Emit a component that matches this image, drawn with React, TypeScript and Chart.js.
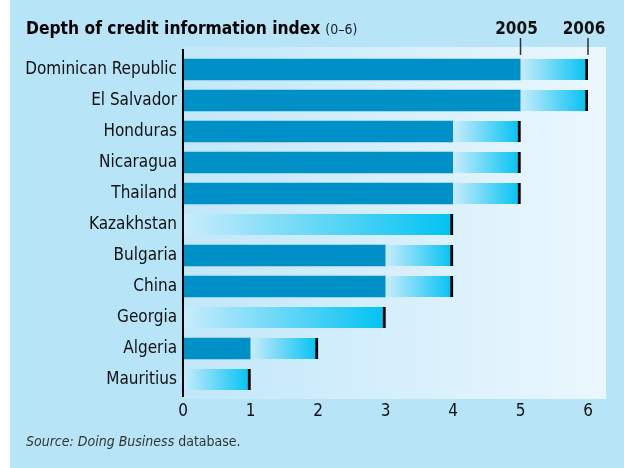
import React, { useEffect, useRef } from "react";
import { Chart, registerables } from "chart.js";

Chart.register(...registerables);

const countries = [
  "Dominican Republic",
  "El Salvador",
  "Honduras",
  "Nicaragua",
  "Thailand",
  "Kazakhstan",
  "Bulgaria",
  "China",
  "Georgia",
  "Algeria",
  "Mauritius",
];
const values2005 = [5, 5, 4, 4, 4, 0, 3, 3, 0, 1, 0];
const values2006 = [6, 6, 5, 5, 5, 4, 4, 4, 3, 2, 1];
const xTicks = [0, 1, 2, 3, 4, 5, 6];
const yearLabels = ["2005", "2006"];
const yearPositions = [5, 6];

const TITLE = "Depth of credit information index";
const TITLE_RANGE = "(0–6)";
const SOURCE_ITALIC = "Source: Doing Business";
const SOURCE_REST = " database.";

const FONT = '"Liberation Sans Narrow", "DejaVu Sans Condensed", "Open Sans", sans-serif';

const decorPlugin = {
  id: "decor",
  beforeDraw(chart: any) {
    const { ctx, chartArea } = chart;
    ctx.save();
    ctx.fillStyle = "#ffffff";
    ctx.fillRect(0, 0, chart.width, chart.height);
    ctx.fillStyle = "#b8e4f8";
    ctx.fillRect(10, 0, chart.width - 10, chart.height);
    const left = chartArea.left;
    const right = 606;
    const top = chartArea.top - 7;
    const bottom = chartArea.bottom + 4;
    const g = ctx.createLinearGradient(left, 0, right, 0);
    g.addColorStop(0, "#c1e7f9");
    g.addColorStop(1, "#ebf7fe");
    ctx.fillStyle = g;
    ctx.fillRect(left, top, right - left, bottom - top);
    ctx.restore();
  },
  afterDraw(chart: any) {
    const { ctx, chartArea, scales } = chart;
    const x = scales.x;
    ctx.save();
    ctx.strokeStyle = "#000";
    ctx.lineWidth = 2;
    ctx.beginPath();
    ctx.moveTo(chartArea.left, chartArea.top - 5);
    ctx.lineTo(chartArea.left, chartArea.bottom + 2);
    ctx.stroke();
    ctx.fillStyle = "#111";
    ctx.font = "bold 17px " + FONT;
    ctx.textAlign = "center";
    ctx.textBaseline = "alphabetic";
    yearLabels.forEach((lab, i) => {
      const px = x.getPixelForValue(yearPositions[i]);
      ctx.fillText(lab, px - 4, 34);
      ctx.strokeStyle = "#333";
      ctx.lineWidth = 1.5;
      ctx.beginPath();
      ctx.moveTo(px, 38);
      ctx.lineTo(px, 55);
      ctx.stroke();
    });
    ctx.textAlign = "left";
    ctx.font = "bold 17.3px " + FONT;
    ctx.fillStyle = "#000";
    ctx.fillText(TITLE, 26, 34);
    const tw = ctx.measureText(TITLE).width;
    ctx.font = "14px " + FONT;
    ctx.fillStyle = "#222";
    ctx.fillText(TITLE_RANGE, 26 + tw + 5, 34);
    ctx.font = "italic 14px " + FONT;
    ctx.fillStyle = "#333";
    ctx.fillText(SOURCE_ITALIC, 26, 446);
    const sw = ctx.measureText(SOURCE_ITALIC).width;
    ctx.font = "14px " + FONT;
    ctx.fillText(SOURCE_REST, 26 + sw, 446);
    ctx.restore();
  },
};

export default function App() {
  const ref = useRef<HTMLCanvasElement | null>(null);

  useEffect(() => {
    const canvas = ref.current;
    if (!canvas) return;
    const chart = new Chart(canvas, {
      type: "bar",
      data: {
        labels: countries,
        datasets: [
          {
            label: "2005",
            data: values2005.map((v) => [0, v]) as any,
            backgroundColor: "#0090c8",
            barThickness: 21,
            grouped: false,
            order: 2,
          } as any,
          {
            label: "2006",
            data: values2005.map((v, i) => [v, values2006[i]]) as any,
            backgroundColor: (c: any) => {
              const chart = c.chart;
              if (!chart.chartArea || !c.raw) return "#66ccf2";
              const xs = chart.scales.x;
              const x0 = xs.getPixelForValue(c.raw[0]);
              const x1 = xs.getPixelForValue(c.raw[1]);
              const g = chart.ctx.createLinearGradient(x0, 0, x1, 0);
              g.addColorStop(0, "#c9ecfb");
              g.addColorStop(1, "#00c2f2");
              return g;
            },
            borderColor: "#000",
            borderWidth: { left: 0, top: 0, bottom: 0, right: 3 },
            borderSkipped: false,
            barThickness: 21,
            grouped: false,
            order: 1,
          } as any,
        ],
      },
      options: {
        indexAxis: "y",
        animation: false,
        responsive: false,
        maintainAspectRatio: false,
        layout: { padding: { top: 54, right: 36, left: 0, bottom: 0 } },
        plugins: {
          legend: { display: false },
          tooltip: { enabled: false },
          title: { display: false },
        },
        scales: {
          x: {
            type: "linear",
            min: 0,
            max: 6,
            grid: { display: false, drawTicks: false },
            border: { display: false },
            afterBuildTicks: (s: any) => {
              s.ticks = xTicks.map((v) => ({ value: v }));
            },
            afterFit: (s: any) => {
              s.height = 73;
            },
            ticks: {
              padding: 6,
              color: "#111",
              font: { family: FONT, size: 17 },
              maxRotation: 0,
              autoSkip: false,
            },
          },
          y: {
            grid: { display: false, drawTicks: false },
            border: { display: false },
            afterFit: (s: any) => {
              s.width = 183;
            },
            ticks: {
              padding: 6,
              color: "#111",
              font: { family: FONT, size: 17 },
              autoSkip: false,
            },
          },
        },
      },
      plugins: [decorPlugin],
    });
    return () => chart.destroy();
  }, []);

  return (
    <div style={{ position: "fixed", left: 0, top: 0, width: 624, height: 468 }}>
      <canvas ref={ref} width={624} height={468} style={{ width: 624, height: 468, display: "block" }} />
    </div>
  );
}
